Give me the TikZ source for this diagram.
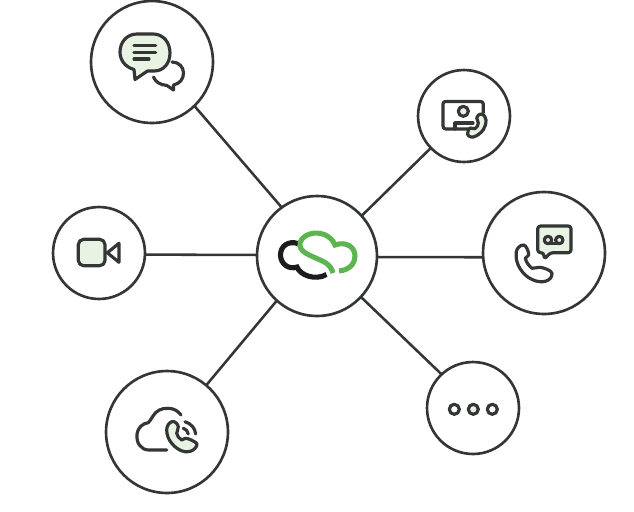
\documentclass[tikz,border=0pt]{standalone}
\usepackage{tikz}
\definecolor{inkgrey}{HTML}{333635}
\definecolor{palegreen}{HTML}{E8F3E3}
\definecolor{logogreen}{HTML}{5DB552}
\definecolor{logoblack}{HTML}{1C1C1C}
\tikzset{
  hubcircle/.style={circle,draw=inkgrey,line width=1.5pt,inner sep=0pt,outer sep=0pt,minimum size=#1*0.04cm},
  spoke/.style={draw=inkgrey,line width=1.45pt},
  iconline/.style={draw=inkgrey,line width=1.8pt,line cap=round,line join=round},
  iconfill/.style={iconline,fill=palegreen},
  logoline/.style={line width=2.9pt,line cap=butt}
}
\begin{document}
\begin{tikzpicture}[x=0.02cm,y=-0.02cm]
\useasboundingbox (0,0) rectangle (634,511);

% Circles
\node[hubcircle=60] (hub) at (317,256) {};
\node[hubcircle=61] (chat) at (152,62) {};
\node[hubcircle=46] (video) at (99,253) {};
\node[hubcircle=61] (cloudcall) at (167,432) {};
\node[hubcircle=46] (contact) at (464,116) {};
\node[hubcircle=61] (voicemail) at (544,253) {};
\node[hubcircle=46] (more) at (473,408) {};

% Connecting edges
\draw[spoke] (chat.-46) -- (hub.126);
\draw[spoke] (contact.224) -- (hub.42);
\draw[spoke] (video.-2.5) -- (hub.179);
\draw[spoke] (voicemail.184) -- (hub.-1);
\draw[spoke] (cloudcall.50) -- (hub.228);
\draw[spoke] (more.133) -- (hub.-43);

% Logo in the middle
\draw[logoline,logoblack] (298,243.5) .. controls (288,240.5) and (280.5,246) .. (280.5,255)
  .. controls (280.5,264) and (289,270) .. (297,267) .. controls (300,275) and (315,281) .. (326.5,274.5);
\draw[logoline,logogreen] (339,271) .. controls (350,270) and (355,263) .. (355,256)
  .. controls (355,247) and (346,241) .. (335,245) .. controls (331,235) and (319,231) .. (310,234)
  .. controls (303,236) and (299,241) .. (300,246) .. controls (301,254) and (316,257) .. (326,263)
  .. controls (330,266) and (332,269) .. (333,273);

% Chat icon
\draw[iconfill] (135,79.5) -- (147.5,71) -- (154,71) .. controls (164,71) and (170,63) .. (170,53)
  .. controls (170,42) and (163,34) .. (153,34) -- (137,34) .. controls (127,34) and (120,42) .. (120,52)
  .. controls (120,60) and (125,67) .. (134,69.5) -- cycle;
\draw[iconline] (134,45.7) -- (155.7,45.7);
\draw[iconline] (134,52.3) -- (155.7,52.3);
\draw[iconline] (134,59) -- (149,59);
\draw[iconline] (172,62) .. controls (179,62) and (183.5,67) .. (183.5,73)
  .. controls (183.5,79) and (180,83.5) .. (173.5,85) -- (173.5,90) -- (167,85.5)
  .. controls (160,85) and (155,81.5) .. (153.5,77);

% Contact card icon
\draw[iconline] (468,129) -- (446,129) .. controls (444,129) and (443,128) .. (443,126) -- (443,104)
  .. controls (443,102) and (444,101.5) .. (446,101.5) -- (480,101.5) .. controls (482,101.5) and (483.3,102) .. (483.3,104) -- (483.3,113);
\draw[iconfill] (463.3,111.3) circle (5);
\draw[iconline] (455,129) -- (455,123) -- (473,123);
\draw[iconfill] (480.7,114) .. controls (484,114.5) and (486,117) .. (486,120)
  .. controls (486,124) and (485,127) .. (483.3,129.7) .. controls (481,133) and (477,136) .. (473.3,137)
  .. controls (470,137.5) and (467,135.5) .. (467.7,133) .. controls (468,130) and (469,128.5) .. (470,128)
  .. controls (472,127.5) and (474,129.5) .. (475,128.7) .. controls (477,127.5) and (478.3,125) .. (478.3,123)
  .. controls (478.5,121) and (476.5,120) .. (476.7,118) .. controls (477,116) and (479,114) .. (480.7,114) -- cycle;

% Voicemail icon
\draw[iconfill,rounded corners=1.6pt] (543.7,252.7) -- (537.7,252.7) -- (537.7,226) -- (571,226) -- (571,252.7) -- (550.3,252.7) -- (544.3,259.3) -- cycle;
\draw[iconline] (548,240) circle (3.7);
\draw[iconline] (559.3,240) circle (3.7);
\draw[iconline] (548,243.7) -- (559.3,243.7);
\draw[iconline] (516.3,251.7) .. controls (517,248) and (520,245) .. (523.7,245)
  .. controls (526,245) and (529,252) .. (528.7,255) .. controls (528.5,257) and (525.5,256.5) .. (525.3,258.3)
  .. controls (526,262) and (529,266) .. (532,268.3) .. controls (535,269) and (537,266.5) .. (540.3,267.3)
  .. controls (544,268) and (551,270) .. (552,273.3) .. controls (552.5,275.5) and (551,277) .. (550.3,278.3)
  .. controls (548,281) and (544,282) .. (540.3,281.7) .. controls (535,281.5) and (529,278.5) .. (525.3,275)
  .. controls (521,271) and (518,266) .. (517,261.7) .. controls (516,258) and (516,255) .. (516.3,251.7) -- cycle;

% Cloud with call icon
\draw[iconline] (181,415) .. controls (178,411) and (174,408.3) .. (168,408.3)
  .. controls (161,408) and (156,411) .. (153,416) .. controls (151,419) and (150,421) .. (148.3,422.7)
  .. controls (143,423) and (137.5,428) .. (137,434) .. controls (136,443) and (141,450) .. (149,450) -- (166.7,450);
\draw[iconfill] (171.7,421.7) .. controls (168.5,423) and (166.7,426.5) .. (166.7,430)
  .. controls (166.7,435) and (168.5,439.5) .. (171.7,443.3) .. controls (175,447.5) and (180,451) .. (185,451.7)
  .. controls (189,452) and (193,451) .. (195,448.3) .. controls (196.5,447) and (197.5,445) .. (196.7,443.3)
  .. controls (194,441) and (188,438) .. (185,438.3) .. controls (183,438.5) and (183,440.5) .. (181.7,440)
  .. controls (179,438.5) and (177,435.5) .. (176.7,433.3) .. controls (176.5,431.5) and (178.5,430) .. (178.3,426.7)
  .. controls (178,424) and (174.5,420.5) .. (171.7,421.7) -- cycle;
\draw[iconline] (185,421.7) .. controls (191,423.5) and (195,428) .. (195.7,434);
\draw[iconline] (183.3,428.3) .. controls (186,429) and (187.8,431) .. (188.3,434);

% Video icon
\draw[iconfill,rounded corners=3pt] (78.3,239.3) rectangle (105,265.7);
\draw[iconline] (107.3,252.7) -- (119,243.3) -- (119,262.3) -- cycle;

% Dots icon
\draw[iconline] (454.3,409.3) circle (5);
\draw[iconfill] (473.3,409.3) circle (5);
\draw[iconline] (492.3,409.3) circle (5);
\end{tikzpicture}
\end{document}
